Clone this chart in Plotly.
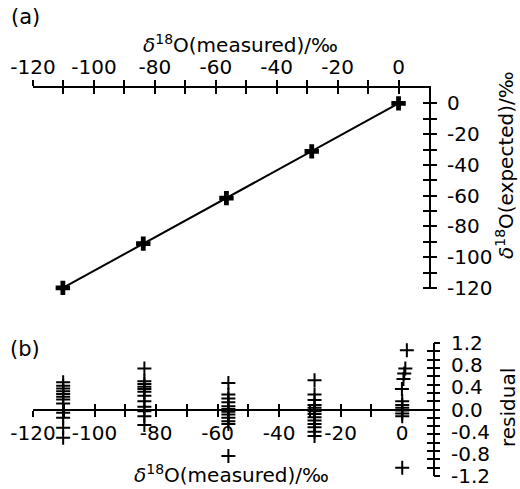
import plotly.graph_objects as go

# ---------------- data ----------------
measured = [-110.2, -83.8, -56.5, -28.5, 0.0]
expected = [-120.0, -91.2, -61.6, -31.2, 0.0]

res_col1 = [0.49, 0.43, 0.38, 0.33, 0.28, 0.23, 0.18, 0.11, -0.06, -0.15, -0.33, -0.51]
res_col2 = [0.74, 0.51, 0.46, 0.41, 0.37, 0.32, 0.25, 0.15, 0.05, -0.03, -0.12, -0.28]
res_col3 = [0.48, 0.27, 0.20, 0.13, 0.06, 0.01, -0.04, -0.09, -0.15, -0.21, -0.26, -0.84]
res_col4 = [0.53, 0.27, 0.17, 0.08, 0.03, -0.03, -0.08, -0.14, -0.20, -0.26, -0.32, -0.40, -0.48]
res_col5 = [1.07, 0.74, 0.65, 0.55, 0.37, 0.15, 0.08, 0.03, -0.02, -0.07, -0.12, -1.05]
res_col5_x = [1.5, 1.0, 0.65, 0.4, -0.1, 0.0, 0.0, 0.0, 0.0, 0.0, 0.0, 0.0]

x_ticks = list(range(-120, 1, 10))
x_labels = [str(v) if v % 20 == 0 else "" for v in x_ticks]
y_ticks = list(range(-120, 1, 10))
y_labels = [str(v) if v % 20 == 0 else "" for v in y_ticks]
r_label_vals = [-1.2, -0.8, -0.4, 0.0, 0.4, 0.8, 1.2]
r_label_text = ["-1.2", "-0.8", "-0.4", "0.0", "0.4", "0.8", "1.2"]
r_tick_vals = [round(-1.2 + 0.15 * i, 2) for i in range(17)]

# ---------------- layout helpers ----------------
W, H = 520, 489
FONT = "DejaVu Sans"
FS = 20


def px(x):
    return x / W


def py(y):
    return 1 - y / H


top_xdom = [px(33), px(429)]
top_ydom = [py(289), py(88)]
top_yrange = [-120.7, 10]
bot_xdom = [px(33), px(433)]
bot_ydom = [py(476), py(343)]
r_range = [-1.2, 1.2]
zero_pos = bot_ydom[0] + (0 - r_range[0]) / (r_range[1] - r_range[0]) * (bot_ydom[1] - bot_ydom[0])

fig = go.Figure()

# top panel
fig.add_trace(go.Scatter(
    x=measured, y=expected, mode="lines+markers", xaxis="x", yaxis="y",
    line=dict(color="black", width=2),
    marker=dict(symbol="cross", size=12, color="black"),
    showlegend=False, cliponaxis=False,
))

# bottom panel residuals
res_x = ([measured[0]] * len(res_col1) + [measured[1]] * len(res_col2)
         + [measured[2]] * len(res_col3) + [measured[3]] * len(res_col4)
         + [measured[4] + d for d in res_col5_x])
res_y = res_col1 + res_col2 + res_col3 + res_col4 + res_col5
fig.add_trace(go.Scatter(
    x=res_x, y=res_y, mode="markers", xaxis="x2", yaxis="y2",
    marker=dict(symbol="cross-thin", size=10, line=dict(color="black", width=2)),
    showlegend=False, cliponaxis=False,
))

# empty traces to make overlay axes render
for xa, ya in [("x3", "y"), ("x", "y3"), ("x4", "y2"), ("x2", "y4"), ("x2", "y5")]:
    fig.add_trace(go.Scatter(x=[], y=[], xaxis=xa, yaxis=ya, showlegend=False))

ax_common = dict(showgrid=False, zeroline=False, linecolor="black", linewidth=2,
                 tickcolor="black", tickwidth=2, ticklen=6, automargin=False,
                 tickfont=dict(family=FONT, size=FS, color="black"))

fig.update_layout(
    template="none",
    width=W, height=H,
    margin=dict(l=0, r=0, t=0, b=0, pad=0),
    paper_bgcolor="white", plot_bgcolor="rgba(0,0,0,0)",
    font=dict(family=FONT, size=FS, color="black"),
    xaxis=dict(domain=top_xdom, range=[-120, 10], anchor="y", side="top",
               showline=True, tickmode="array", tickvals=x_ticks, ticktext=x_labels,
               ticks="outside", ticklabelstandoff=-2, **ax_common),
    xaxis3=dict(overlaying="x", range=[-120, 10], anchor="y", side="top",
                showline=False, tickmode="array", tickvals=x_ticks,
                ticks="inside", showticklabels=False, **ax_common),
    yaxis=dict(domain=top_ydom, range=top_yrange, anchor="x", side="right",
               showline=True, tickmode="array", tickvals=y_ticks, ticktext=y_labels,
               ticks="outside", ticklabelstandoff=6, **ax_common),
    yaxis3=dict(overlaying="y", range=top_yrange, anchor="x", side="right",
                showline=False, tickmode="array", tickvals=y_ticks,
                ticks="inside", showticklabels=False, **ax_common),
    xaxis2=dict(domain=bot_xdom, range=[-120, 10], anchor="free", position=zero_pos,
                side="bottom", showline=True, tickmode="array", tickvals=x_ticks,
                ticktext=x_labels, ticks="outside", ticklabelstandoff=-1, **ax_common),
    xaxis4=dict(overlaying="x2", range=[-120, 10], anchor="free", position=zero_pos,
                side="bottom", showline=False, tickmode="array", tickvals=x_ticks,
                ticks="inside", showticklabels=False, **ax_common),
    yaxis2=dict(domain=bot_ydom, range=r_range, anchor="x2", side="right",
                showline=True, tickmode="array", tickvals=r_label_vals,
                ticktext=r_label_text, ticks="", ticklabelstandoff=12, **ax_common),
    yaxis4=dict(overlaying="y2", range=r_range, anchor="x2", side="right",
                showline=False, tickmode="array", tickvals=r_tick_vals,
                ticks="outside", showticklabels=False, **ax_common),
    yaxis5=dict(overlaying="y2", range=r_range, anchor="x2", side="right",
                showline=False, tickmode="array", tickvals=r_tick_vals,
                ticks="inside", showticklabels=False, **ax_common),
)

title_font = dict(family=FONT, size=FS, color="black")
annots = [
    dict(text="(a)", x=px(25), y=py(17), font=dict(family=FONT, size=21, color="black")),
    dict(text="(b)", x=px(25), y=py(349), font=dict(family=FONT, size=21, color="black")),
    dict(text="<i>δ</i><sup>18</sup>O(measured)/‰", x=px(240), y=py(44), font=title_font),
    dict(text="<i>δ</i><sup>18</sup>O(measured)/‰", x=px(231), y=py(474), font=title_font),
    dict(text="<i>δ</i><sup>18</sup>O(expected)/‰", x=px(505), y=py(165), textangle=-90, font=title_font),
    dict(text="residual", x=px(508), y=py(408), textangle=-90, font=title_font),
]
for a in annots:
    fig.add_annotation(xref="paper", yref="paper", xanchor="center", yanchor="middle",
                       showarrow=False, **a)

fig.write_html("out.html")
